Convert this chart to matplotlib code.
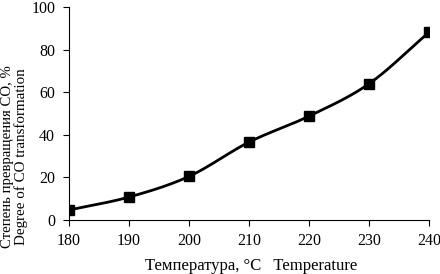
import numpy as np
import matplotlib
matplotlib.use("Agg")
import matplotlib.pyplot as plt

temperature = [180, 190, 200, 210, 220, 230, 240]
conversion = [4.7, 10.8, 20.5, 36.6, 48.8, 64.0, 88.2]
x_ticks = [180, 190, 200, 210, 220, 230, 240]
y_ticks = [0, 20, 40, 60, 80, 100]

plt.rcParams['font.family'] = ['Liberation Serif', 'DejaVu Serif']

def smooth(xs, ys, n=30):
    xs = np.asarray(xs, float); ys = np.asarray(ys, float)
    px = np.concatenate([[2*xs[0]-xs[1]], xs, [2*xs[-1]-xs[-2]]])
    py = np.concatenate([[2*ys[0]-ys[1]], ys, [2*ys[-1]-ys[-2]]])
    ox, oy = [], []
    t = np.linspace(0, 1, n)
    for i in range(1, len(px)-2):
        for arr, out in ((px, ox), (py, oy)):
            p0, p1, p2, p3 = arr[i-1], arr[i], arr[i+1], arr[i+2]
            out.extend(0.5*((2*p1) + (-p0+p2)*t + (2*p0-5*p1+4*p2-p3)*t**2 + (-p0+3*p1-3*p2+p3)*t**3))
    return ox, oy

W, H = 440, 274
fig = plt.figure(figsize=(W/100, H/100), dpi=100)
ax = fig.add_axes([0.157, 0.197, 0.818, 0.777])
sx, sy = smooth(temperature, conversion)
ax.plot(sx, sy, color='black', lw=2.0, solid_capstyle='round')
ax.plot(temperature, conversion, ls='none', marker='s', ms=7, color='black')
ax.set_xlim(180, 240)
ax.set_ylim(0, 100)
ax.set_xticks(x_ticks)
ax.set_yticks(y_ticks)
for s in ['top', 'right']:
    ax.spines[s].set_visible(False)
for s in ['left', 'bottom']:
    ax.spines[s].set_linewidth(0.8)
ax.tick_params(direction='out', length=4, width=0.8, labelsize=11.5)
ax.tick_params(axis='x', pad=5)
ax.tick_params(axis='y', pad=6)

fig.text(251/W, 1 - 270/H, 'Температура, °С   Temperature', fontsize=12,
         ha='center', va='baseline')
fig.text(8/W, 1 - 157/H, 'Степень превращения СО, %', fontsize=10.6,
         rotation=90, ha='center', va='center')
fig.text(21.5/W, 1 - 157/H, 'Degree of CO transformation', fontsize=10.8,
         rotation=90, ha='center', va='center')
fig.savefig('out.png', dpi=100)
